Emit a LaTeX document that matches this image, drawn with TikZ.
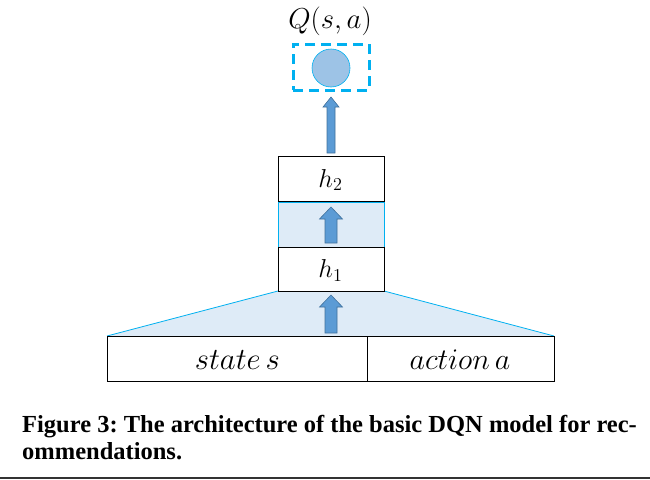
\RequirePackage{fix-cm}
\documentclass[tikz,border=0pt]{standalone}
\usepackage{fontspec}
\newfontfamily\capfont{Liberation Serif}
\usetikzlibrary{calc}
\definecolor{cyanline}{HTML}{00B0F0}
\definecolor{lightband}{HTML}{DEEBF7}
\definecolor{circfill}{HTML}{9DC3E6}
\definecolor{arrfill}{HTML}{5B9BD5}
\definecolor{arrline}{HTML}{41719C}
\tikzset{
  layer/.style={draw=black, line width=0.9pt, fill=white},
  band/.style={fill=lightband, draw=cyanline, line width=0.8pt},
  blockarr/.style={fill=arrfill, draw=arrline, line width=0.6pt},
  txt/.style={inner sep=0pt},
  captxt/.style={inner sep=0pt, anchor=base west, font=\capfont\bfseries\fontsize{24.5}{28}\selectfont\frenchspacing},
}
% block arrow from (#1) bottom-centre to (#2) top-centre; #3 half shaft, #4 half head, #5 head height
\newcommand\blockarrow[5]{%
  \path[blockarr] let \p1=(#1), \p2=(#2) in
   (\x1-#3,\y1) -- (\x1-#3,\y2-#5) -- (\x1-#4,\y2-#5) -- (\x1,\y2) -- (\x1+#4,\y2-#5) -- (\x1+#3,\y2-#5) -- (\x1+#3,\y1) -- cycle;}
\begin{document}
\begin{tikzpicture}[x=1pt,y=-1pt]
\useasboundingbox (0,0) rectangle (650,479);
% trapezoid
\path[fill=lightband] (278,291) -- (384,291) -- (554,336) -- (107,336) -- cycle;
\draw[cyanline, line width=0.8pt] (278,291) -- (107,336);
\draw[cyanline, line width=0.8pt] (384,291) -- (554,336);
% band between h1 and h2
\path[band] (278,202) rectangle (384,247);
% layers
\node[layer, minimum width=106pt, minimum height=45pt, anchor=north west, inner sep=0pt] (h2) at (278,156) {};
\node[txt, scale=1.08] at ($(h2.center)+(-1,1)$) {\fontsize{24}{28}\selectfont $h_2$};
\node[layer, minimum width=106pt, minimum height=44pt, anchor=north west, inner sep=0pt] (h1) at (278,247) {};
\node[txt, scale=1.08] at ($(h1.center)+(-1,1)$) {\fontsize{24}{28}\selectfont $h_1$};
\node[layer, minimum width=260pt, minimum height=45pt, anchor=north west, inner sep=0pt] (state) at (107,336) {};
\node[layer, minimum width=187pt, minimum height=45pt, anchor=north west, inner sep=0pt] (action) at (367,336) {};
\node[txt, scale=1.1] at ($(state.center)+(0,1)$) {\fontsize{28}{32}\selectfont $state\,s$};
\node[txt, scale=1.07] at ($(action.center)+(-1,1)$) {\fontsize{28}{32}\selectfont $action\,a$};
% output
\node[draw=cyanline, line width=3pt, dash pattern=on 10pt off 6pt, minimum width=76pt, minimum height=46pt, inner sep=0pt] (outbox) at (331,67) {};
\node[circle, fill=circfill, draw=cyanline, line width=0.6pt, minimum size=38pt, inner sep=0pt] (out) at (331,68) {};
\node[txt, scale=1.2] (q) at (330,21) {\fontsize{24}{28}\selectfont $Q(s,a)$};
% arrows
\coordinate (a1b) at (331,153); \coordinate (a1t) at (331,97);
\blockarrow{a1b}{a1t}{4}{8}{10}
\coordinate (a2b) at (331,243); \coordinate (a2t) at (331,207);
\blockarrow{a2b}{a2t}{6}{11.5}{12}
\coordinate (a3b) at (331,333); \coordinate (a3t) at (331,295);
\blockarrow{a3b}{a3t}{6}{11.5}{12}
% caption
\node[captxt] (cap1) at (22,432) {Figure 3: The architecture of the basic DQN model for rec-};
\node[captxt] (cap2) at (22,459) {ommendations.};
\draw[black!80, line width=2pt] (0,477.5) -- (650,477.5);
\end{tikzpicture}
\end{document}
